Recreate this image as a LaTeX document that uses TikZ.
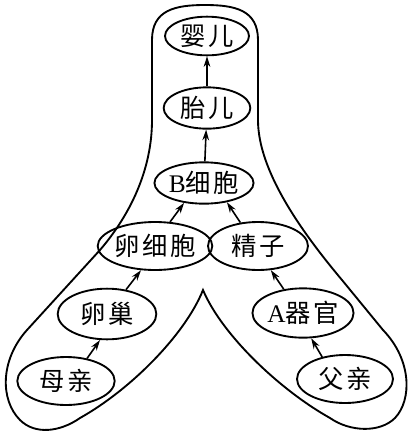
\documentclass[tikz,border=0pt]{standalone}
\usepackage{fontspec}
\newfontfamily\cjk[LetterSpace=10]{Noto Sans CJK SC}
\newfontfamily\lat{Liberation Serif}
\usetikzlibrary{shapes.geometric,arrows.meta}

\tikzset{every picture/.style={line width=1.4pt}}
\tikzset{
  organ/.style={draw, ellipse, inner sep=0pt, minimum width=73pt, minimum height=36pt,
    font=\cjk\fontsize{19}{22}\selectfont},
  link/.style={-{Stealth[length=8pt,width=5pt]}, line width=1.2pt}
}

\begin{document}
\begin{tikzpicture}[x=0.75pt,y=0.75pt,yscale=-1,xscale=1]
        \useasboundingbox (0,0) rectangle (411,433);
        % outline
        \draw   (152,40) .. controls (152,10) and (175,5) .. (205,5) .. controls (235,5) and (258,10) .. (258,40) -- (258,120) .. controls (258,170) and (300,230) .. (342,280) -- (383,330) .. controls (412,360) and (412,400) .. (395,418) .. controls (380,433) and (350,432) .. (330,418) .. controls (280,390) and (222,335) .. (203,290) .. controls (185,335) and (130,390) .. (80,418) .. controls (60,432) and (35,435) .. (20,420) .. controls (0,400) and (0,360) .. (27,330) -- (100,250) .. controls (130,215) and (152,170) .. (152,120) -- cycle ;

        \node[organ, minimum width=63pt, minimum height=29pt] (baby) at (207,36) {婴儿};
        \node[organ, minimum width=65pt, minimum height=31pt] (fetus) at (207,108) {胎儿};
        \node[organ, minimum width=70pt, minimum height=31pt] (bcell) at (204,183) {{\lat B}细胞};
        \node[organ] (egg) at (155,246) {卵细胞};
        \node[organ, minimum width=75pt] (sperm) at (258,246) {精子};
        \node[organ, minimum width=74pt, minimum height=38pt] (ovary) at (107,314) {卵巢};
        \node[organ, minimum width=75pt, minimum height=37pt] (organA) at (303,313) {{\lat A}器官};
        \node[organ] (mother) at (66,381) {母亲};
        \node[organ, minimum width=72pt] (father) at (345,379) {父亲};

        \draw[link] (fetus) -- (baby);
        \draw[link] (bcell) -- (fetus);
        \draw[link] (mother.47) -- (ovary.255);
        \draw[link] (ovary.52) -- (egg.240);
        \draw[link] (egg.58) -- (bcell.225);
        \draw[link] (father.136) -- (organA.288);
        \draw[link] (organA.129) -- (sperm.298);
        \draw[link] (sperm.127) -- (bcell.320);
    \end{tikzpicture}
\end{document}
